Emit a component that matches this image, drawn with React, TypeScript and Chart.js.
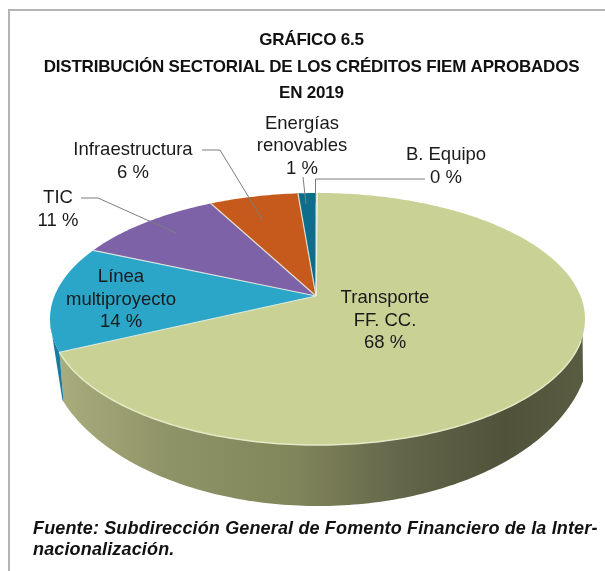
import React, { useEffect, useRef } from "react";
import { Chart, registerables } from "chart.js";

Chart.register(...registerables);

const titleLines = ["GRÁFICO 6.5", "DISTRIBUCIÓN SECTORIAL DE LOS CRÉDITOS FIEM APROBADOS", "EN 2019"];
const sourceLines = ["Fuente: Subdirección General de Fomento Financiero de la Inter-", "nacionalización."];
const categories = ["Transporte FF. CC.", "Línea multiproyecto", "TIC", "Infraestructura", "Energías renovables", "B. Equipo"];
const labelLines = [["Transporte", "FF. CC."], ["Línea", "multiproyecto"], ["TIC"], ["Infraestructura"], ["Energías", "renovables"], ["B. Equipo"]];
const shares = [68.0, 13.6, 10.6, 6.4, 1.3, 0.1];
const colors = ["#c9d194", "#2ba6c9", "#7d62a8", "#c65a1d", "#0f6d8c", "#c8c8dc"];

const APEX = { x: 316, y: 296 };
const TOP = { x: 317.5, y: 296, a: 121.8, b: 263, k: 0.1825 };
const BOTTOM = { x: 318, y: 345, rx: 272, ry: 161 };
const DEG = Math.PI / 180;

function topPoint(t: number): [number, number] {
  const u = Math.cos(t), v = Math.sin(t), w = 1 - TOP.k * v;
  return [TOP.x + (TOP.b * u) / w, TOP.y + (TOP.a * v) / w];
}
function bottomPoint(t: number): [number, number] {
  let d = 90 + (t / DEG - 90) * 1.07;
  d = Math.max(13, Math.min(160, d));
  return [BOTTOM.x + BOTTOM.rx * Math.cos(d * DEG), BOTTOM.y + BOTTOM.ry * Math.sin(d * DEG)];
}
function samples(a: number, b: number): number[] {
  const n = Math.max(2, Math.ceil(Math.abs(b - a) / (1 * DEG)));
  const r: number[] = [];
  for (let i = 0; i <= n; i++) r.push(a + ((b - a) * i) / n);
  return r;
}

const pie3d = {
  id: "pie3d",
  beforeDraw(chart: any) {
    const c = chart.ctx;
    c.save();
    c.fillStyle = "#ffffff";
    c.fillRect(0, 0, chart.width, chart.height);
    c.strokeStyle = "#b4b4b4";
    c.lineWidth = 2;
    c.beginPath();
    c.moveTo(605, 10);
    c.lineTo(9, 10);
    c.lineTo(9, 571);
    c.stroke();
    c.restore();
    c.letterSpacing = "-0.2px";
  },
  beforeDatasetDraw(chart: any, args: any) {
    const c = chart.ctx;
    const arcs = args.meta.data;
    c.save();
    // side wall
    const sMin = 18 * DEG, sMax = 168 * DEG;
    arcs.forEach((arc: any, i: number) => {
      const a = Math.max(arc.startAngle, sMin), b = Math.min(arc.endAngle, sMax);
      if (b <= a) return;
      const ts = samples(a, b);
      c.beginPath();
      ts.forEach((t, j) => { const p = topPoint(t); j ? c.lineTo(p[0], p[1]) : c.moveTo(p[0], p[1]); });
      ts.slice().reverse().forEach((t) => { const p = bottomPoint(t); c.lineTo(p[0], p[1]); });
      c.closePath();
      if (i === 0) {
        const g = c.createLinearGradient(60, 0, 585, 0);
        g.addColorStop(0, "#a9ad7c");
        g.addColorStop(0.2, "#8f9368");
        g.addColorStop(0.45, "#81855a");
        g.addColorStop(0.65, "#63664a");
        g.addColorStop(0.85, "#50523a");
        g.addColorStop(1, "#5a5c42");
        c.fillStyle = g;
      } else {
        c.fillStyle = "#1a7ba0";
      }
      c.fill();
    });
    // top face
    arcs.forEach((arc: any) => {
      const ts = samples(arc.startAngle, arc.endAngle);
      c.beginPath();
      c.moveTo(APEX.x, APEX.y);
      ts.forEach((t) => { const p = topPoint(t); c.lineTo(p[0], p[1]); });
      c.closePath();
      c.fillStyle = arc.options.backgroundColor;
      c.fill();
    });
    // slice edges
    c.strokeStyle = "rgba(235,240,225,0.85)";
    c.lineWidth = 1.2;
    arcs.forEach((arc: any) => {
      const p = topPoint(arc.startAngle);
      c.beginPath();
      c.moveTo(APEX.x, APEX.y);
      c.lineTo(p[0], p[1]);
      c.stroke();
    });
    // rim highlight
    c.strokeStyle = "#e4e9c6";
    c.lineWidth = 1.5;
    c.beginPath();
    samples(20 * DEG, 155 * DEG).forEach((t, j) => { const p = topPoint(t); j ? c.lineTo(p[0], p[1]) : c.moveTo(p[0], p[1]); });
    c.stroke();
    c.restore();
    return false;
  },
  afterDraw(chart: any) {
    const c = chart.ctx;
    c.save();
    c.letterSpacing = "0px";
    // leaders
    const leaders = [
      [[202, 150], [220, 150], [262, 219]],
      [[81, 198], [98, 198], [176, 233]],
      [[303, 177], [306, 204]],
      [[425, 179], [315.5, 179], [315.5, 203]],
    ];
    c.strokeStyle = "#7d7d7d";
    c.lineWidth = 1;
    leaders.forEach((l) => {
      c.beginPath();
      l.forEach((p, j) => (j ? c.lineTo(p[0], p[1]) : c.moveTo(p[0], p[1])));
      c.stroke();
    });
    // labels
    const places = [
      [385, 298], [121, 277], [58, 198], [133, 150], [302, 123.5], [446, 155],
    ];
    const vals = chart.data.datasets[0].data as number[];
    c.font = "18.5px 'Liberation Sans', Arial, sans-serif";
    c.textAlign = "center";
    c.textBaseline = "middle";
    c.fillStyle = "#1a1a1a";
    labelLines.forEach((lines, i) => {
      const all = [...lines, `${Math.round(vals[i])} %`];
      all.forEach((s, j) => c.fillText(s, places[i][0], places[i][1] + j * 22.5));
    });
    // source
    c.font = "italic bold 18px 'Liberation Sans', Arial, sans-serif";
    c.letterSpacing = "0.15px";
    c.textAlign = "left";
    c.fillStyle = "#111";
    sourceLines.forEach((s, j) => c.fillText(s, 33, 529 + j * 21));
    c.restore();
  },
};

export default function App() {
  const ref = useRef<HTMLCanvasElement>(null);
  useEffect(() => {
    const chart = new Chart(ref.current as HTMLCanvasElement, {
      type: "pie",
      data: { labels: categories, datasets: [{ data: shares, backgroundColor: colors, borderWidth: 0 }] },
      options: {
        animation: false,
        responsive: false,
        layout: { padding: { left: 18 } },
        plugins: {
          legend: { display: false },
          tooltip: { enabled: false },
          title: {
            display: true,
            text: titleLines,
            color: "#111",
            font: { family: "'Liberation Sans', Arial, sans-serif", size: 17, weight: "bold", lineHeight: 26.5 / 17 },
            padding: { top: 27.5, bottom: 0 },
          },
        },
      },
      plugins: [pie3d],
    } as any);
    return () => chart.destroy();
  }, []);
  return (
    <div style={{ position: "absolute", left: 0, top: 0 }}>
      <canvas ref={ref} width={605} height={571} style={{ display: "block" }} />
    </div>
  );
}
